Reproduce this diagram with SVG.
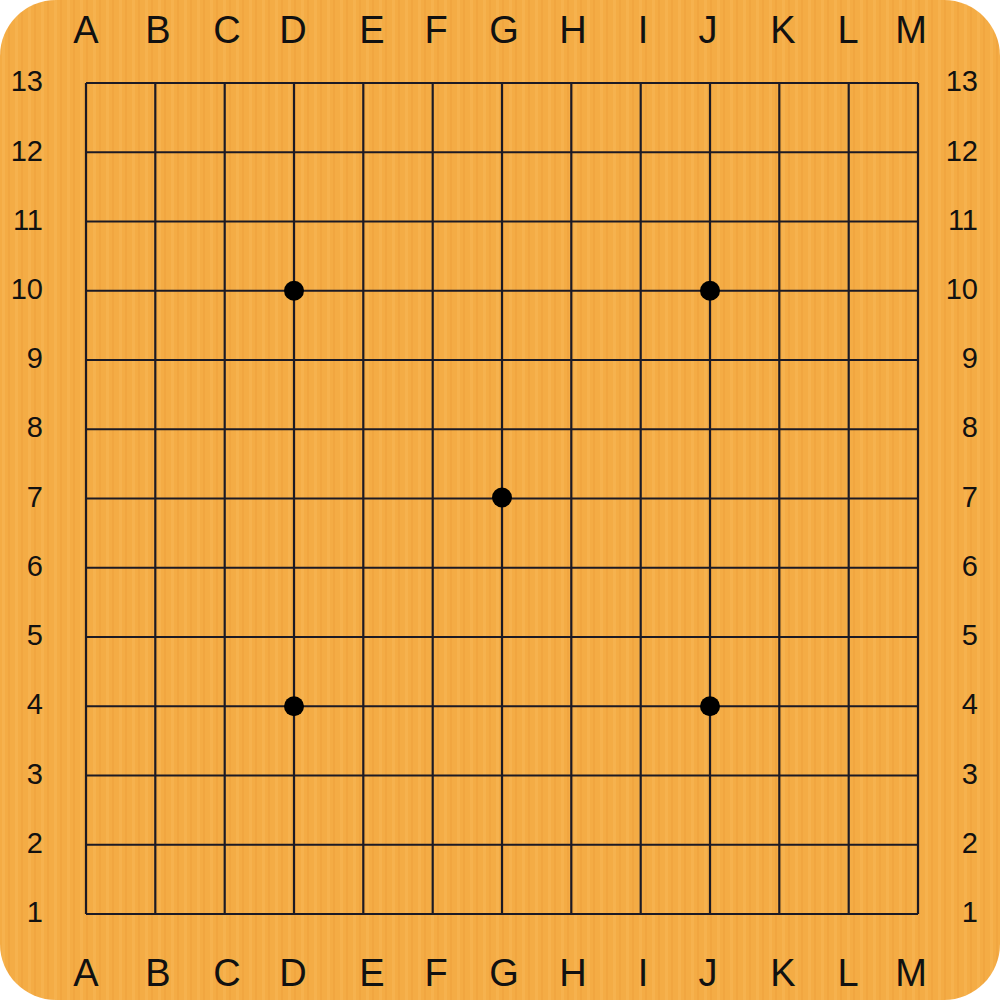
<svg xmlns="http://www.w3.org/2000/svg" width="1000" height="1000" viewBox="0 0 1000 1000">
<defs>
<pattern id="wood" x="0" y="0" width="13" height="1000" patternUnits="userSpaceOnUse">
<rect width="13" height="1000" fill="#F4AC45"/>
<rect x="2" width="3" height="1000" fill="#F7B552" opacity="0.7"/>
<rect x="8" width="2" height="1000" fill="#EFA23C" opacity="0.6"/>
</pattern>
<style>
.grid line{stroke:#1c1a24;stroke-width:2.2}
.col{font-family:"Liberation Sans",Arial,sans-serif;font-size:38px;fill:#111;text-anchor:middle}
.row{font-family:"Liberation Sans",Arial,sans-serif;font-size:29px;fill:#111;text-anchor:end}
.star{fill:#000}
</style>
</defs>
<rect width="1000" height="1000" fill="#ffffff"/>
<rect id="board" x="0" y="0" width="1000" height="1000" rx="56" ry="56" fill="url(#wood)"/>
<g id="grid" class="grid">
<line x1="86" y1="83" x2="86" y2="914"/>
<line x1="155.3" y1="83" x2="155.3" y2="914"/>
<line x1="224.7" y1="83" x2="224.7" y2="914"/>
<line x1="294" y1="83" x2="294" y2="914"/>
<line x1="363.3" y1="83" x2="363.3" y2="914"/>
<line x1="432.7" y1="83" x2="432.7" y2="914"/>
<line x1="502" y1="83" x2="502" y2="914"/>
<line x1="571.3" y1="83" x2="571.3" y2="914"/>
<line x1="640.7" y1="83" x2="640.7" y2="914"/>
<line x1="710" y1="83" x2="710" y2="914"/>
<line x1="779.3" y1="83" x2="779.3" y2="914"/>
<line x1="848.7" y1="83" x2="848.7" y2="914"/>
<line x1="918" y1="83" x2="918" y2="914"/>
<line x1="86" y1="83" x2="918" y2="83"/>
<line x1="86" y1="152.25" x2="918" y2="152.25"/>
<line x1="86" y1="221.5" x2="918" y2="221.5"/>
<line x1="86" y1="290.75" x2="918" y2="290.75"/>
<line x1="86" y1="360" x2="918" y2="360"/>
<line x1="86" y1="429.25" x2="918" y2="429.25"/>
<line x1="86" y1="498.5" x2="918" y2="498.5"/>
<line x1="86" y1="567.75" x2="918" y2="567.75"/>
<line x1="86" y1="637" x2="918" y2="637"/>
<line x1="86" y1="706.25" x2="918" y2="706.25"/>
<line x1="86" y1="775.5" x2="918" y2="775.5"/>
<line x1="86" y1="844.75" x2="918" y2="844.75"/>
<line x1="86" y1="914" x2="918" y2="914"/>
</g>
<g id="stars" class="star">
<circle cx="294" cy="290.75" r="10"/>
<circle cx="710" cy="290.75" r="10"/>
<circle cx="502" cy="497.5" r="10"/>
<circle cx="294" cy="706.25" r="10"/>
<circle cx="710" cy="706.25" r="10"/>
</g>
<g id="top-labels" class="col">
<text x="86" y="43">A</text><text x="158" y="43">B</text><text x="227" y="43">C</text><text x="293" y="43">D</text><text x="372" y="43">E</text><text x="436" y="43">F</text><text x="504" y="43">G</text><text x="573" y="43">H</text><text x="643" y="43">I</text><text x="708" y="43">J</text><text x="783" y="43">K</text><text x="848" y="43">L</text><text x="911" y="43">M</text>
</g>
<g id="bottom-labels" class="col">
<text x="86" y="986">A</text><text x="158" y="986">B</text><text x="227" y="986">C</text><text x="293" y="986">D</text><text x="372" y="986">E</text><text x="436" y="986">F</text><text x="504" y="986">G</text><text x="573" y="986">H</text><text x="643" y="986">I</text><text x="708" y="986">J</text><text x="783" y="986">K</text><text x="848" y="986">L</text><text x="911" y="986">M</text>
</g>
<g id="left-labels" class="row">
<text x="43" y="91">13</text><text x="43" y="161">12</text><text x="43" y="230">11</text><text x="43" y="299">10</text><text x="43" y="368">9</text><text x="43" y="437">8</text><text x="43" y="507">7</text><text x="43" y="576">6</text><text x="43" y="645">5</text><text x="43" y="714">4</text><text x="43" y="784">3</text><text x="43" y="853">2</text><text x="43" y="922">1</text>
</g>
<g id="right-labels" class="row">
<text x="978" y="91">13</text><text x="978" y="161">12</text><text x="978" y="230">11</text><text x="978" y="299">10</text><text x="978" y="368">9</text><text x="978" y="437">8</text><text x="978" y="507">7</text><text x="978" y="576">6</text><text x="978" y="645">5</text><text x="978" y="714">4</text><text x="978" y="784">3</text><text x="978" y="853">2</text><text x="978" y="922">1</text>
</g>
</svg>
